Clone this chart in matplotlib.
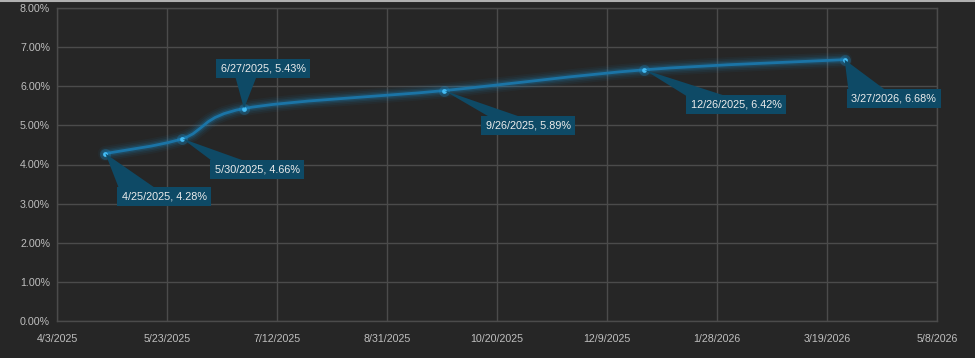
# -*- coding: utf-8 -*-
"""
Yield curve style line chart with callout labels (dark theme).
"""

import datetime as dt

import numpy as np
import matplotlib
matplotlib.use('Agg')
import matplotlib.pyplot as plt
import matplotlib.dates as mdates
from matplotlib.path import Path
from matplotlib.patches import PathPatch, Polygon
from matplotlib.transforms import ScaledTranslation

# --DATA---
dates = [dt.date(2025, 4, 25), dt.date(2025, 5, 30), dt.date(2025, 6, 27),
         dt.date(2025, 9, 26), dt.date(2025, 12, 26), dt.date(2026, 3, 27)]
rates = [4.28, 4.66, 5.43, 5.89, 6.42, 6.68]
x_start = dt.date(2025, 4, 3)
x_step_days = 50
x_tick_count = 9
y_ticks = [0, 1, 2, 3, 4, 5, 6, 7, 8]

# label box offsets (pixels) relative to their point
label_offsets = [(59, -43), (75, -31), (19, 40), (84, -35), (92, -35), (49, -39)]
# where the callout wedge meets the box edge (pixels from box centre)
wedge_bases = [(-45, -7), (-43, -8), (-28, -6), (-36, -3), (-47, -5), (-45, -6)]

# --STYLE---
BG = '#262626'
GRID = '#4b4b4b'
TICK = '#bfbfbf'
LINE = '#1b74a6'
GLOW = '#1a8fd0'
DOT = '#45bdf5'
BOX = '#0e4a66'
BOX_HALF_H = 7


def smooth_path(x, y, tension=1 / 6.):
    """ Catmull-Rom style cubic bezier path through the points. """
    pts = np.column_stack([x, y])
    verts = [pts[0]]
    codes = [Path.MOVETO]
    n = len(pts)
    for i in range(n - 1):
        p0 = pts[max(i - 1, 0)]
        p1 = pts[i]
        p2 = pts[i + 1]
        p3 = pts[min(i + 2, n - 1)]
        c1 = p1 + (p2 - p0) * tension
        c2 = p2 - (p3 - p1) * tension
        verts += [c1, c2, p2]
        codes += [Path.CURVE4] * 3
    return Path(verts, codes)


def callout_wedge(ax, xd, yd, off, base):
    """ Triangle from the data point to the near edge of the label box. """
    dx, dy = off
    edge = dy + BOX_HALF_H if dy < 0 else dy - BOX_HALF_H
    verts = [(0, 0), (dx + base[0], edge), (dx + base[1], edge)]
    trans = ScaledTranslation(xd, yd, ax.transData)
    ax.add_patch(Polygon(verts, closed=True, fc=BOX, ec='none',
                         transform=trans, zorder=7, clip_on=False))


def main():
    plt.rcParams['font.family'] = ['Liberation Sans', 'DejaVu Sans']

    fig = plt.figure(figsize=(9.75, 3.58), dpi=100, facecolor=BG)
    ax = fig.add_axes([57 / 975, 1 - 321 / 358, 880 / 975, 313 / 358])
    ax.set_facecolor(BG)

    xnum = mdates.date2num(dates)
    path = smooth_path(xnum, rates)

    # glow underneath the line
    for lw, alpha in [(11, 0.05), (8.5, 0.07), (6, 0.11), (4, 0.17)]:
        ax.add_patch(PathPatch(path, fc='none', ec=GLOW, lw=lw, alpha=alpha,
                               capstyle='round', zorder=3))
    ax.add_patch(PathPatch(path, fc='none', ec=LINE, lw=2, zorder=4))

    ax.plot(xnum, rates, 'o', ms=8, color=GLOW, alpha=0.25, mec='none', zorder=5)
    ax.plot(xnum, rates, 'o', ms=3.4, color=DOT, mec='none', zorder=6)

    for d, r, off, base in zip(dates, rates, label_offsets, wedge_bases):
        xd = mdates.date2num(d)
        callout_wedge(ax, xd, r, off, base)
        txt = '{}/{}/{}, {:.2f}%'.format(d.month, d.day, d.year, r)
        ax.annotate(txt, xy=(xd, r), xytext=off,
                    textcoords='offset pixels', ha='center', va='center',
                    fontsize=7.8, color='#ececec', zorder=8,
                    bbox=dict(boxstyle='square,pad=0.42', fc=BOX, ec='none'))

    # axes
    xticks = [x_start + dt.timedelta(days=x_step_days * i) for i in range(x_tick_count)]
    ax.set_xlim(mdates.date2num(xticks[0]), mdates.date2num(xticks[-1]))
    ax.set_xticks(mdates.date2num(xticks))
    ax.set_xticklabels(['{}/{}/{}'.format(t.month, t.day, t.year) for t in xticks])
    ax.set_ylim(y_ticks[0], y_ticks[-1])
    ax.set_yticks(y_ticks)
    ax.set_yticklabels(['{:.2f}%'.format(v) for v in y_ticks])

    ax.grid(True, color=GRID, lw=1)
    ax.set_axisbelow(True)
    for s in ax.spines.values():
        s.set_color(GRID)
        s.set_linewidth(1)
    ax.tick_params(length=0, colors=TICK, labelsize=7.7)
    ax.tick_params(axis='x', pad=9)
    ax.tick_params(axis='y', pad=5)

    # thin light border on top of the figure
    fig.add_artist(plt.Line2D([0, 1], [0.998, 0.998], color='#b0b0b0', lw=1.5,
                              transform=fig.transFigure))

    fig.savefig('out.png', dpi=100, facecolor=BG)


if __name__ == '__main__':
    main()
